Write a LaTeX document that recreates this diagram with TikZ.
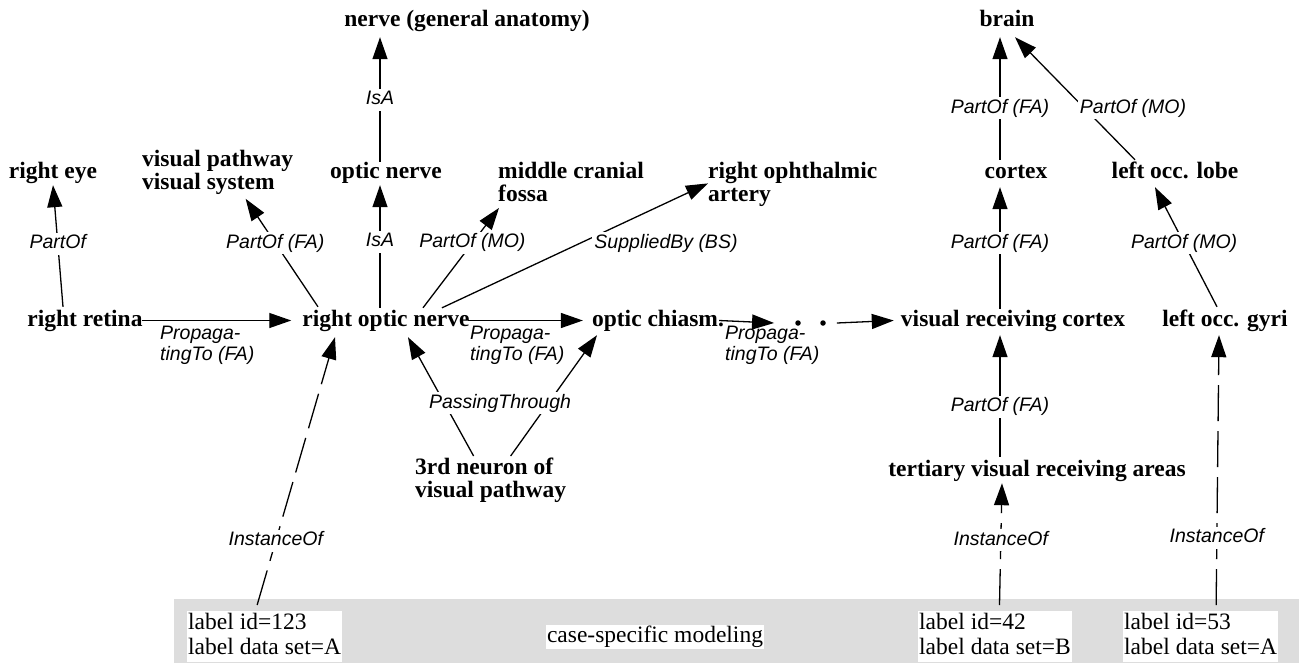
\documentclass[tikz,border=0pt]{standalone}
\usepackage{fontspec}
\setmainfont{Liberation Serif}
\newfontfamily\labfont{Liberation Sans}
\usetikzlibrary{arrows.meta,calc}
\definecolor{bandgray}{RGB}{221,221,221}
\tikzset{
  concept/.style={font=\fontsize{23.5}{23}\selectfont\bfseries, inner sep=0pt, text height=16pt, text depth=5pt, anchor=base},
  conceptml/.style={font=\fontsize{23.5}{23}\selectfont\bfseries, inner sep=0pt, align=left, anchor=north west},
  lab/.style={font=\labfont\itshape\fontsize{19.5}{21}\selectfont, fill=white, inner sep=2pt, text height=14pt, text depth=4pt},
  labml/.style={font=\labfont\itshape\fontsize{19.5}{21}\selectfont, inner sep=0pt, align=left, anchor=north west},
  rel/.style={draw, line width=1.3pt, -{Triangle[length=22pt,width=15pt]}},
  inst/.style={rel, dash pattern=on 36pt off 10pt},
  lbox/.style={fill=white, font=\fontsize{23.5}{25}\selectfont, align=left, inner xsep=1pt, inner ysep=0pt, minimum height=51pt, anchor=north west},
  dot/.style={circle, fill, inner sep=0pt, minimum size=5.5pt},
}
\begin{document}
\begin{tikzpicture}[x=1pt,y=-1pt]
\useasboundingbox (0,0) rectangle (1299,664);
% case-specific band
\fill[bandgray] (174,599) rectangle (1299,663);
\node[lbox] (b123) at (187,611) {label id=123\\label data set=A\vphantom{g}};
\node[lbox] (b42) at (918,611) {label id=42\\label data set=B\vphantom{g}};
\node[lbox] (b53) at (1123,611) {label id=53\\label data set=A\vphantom{g}};
\node[fill=white, font=\fontsize{23.5}{25}\selectfont, inner xsep=1pt, inner ysep=1.5pt, text height=16pt, text depth=5pt] (case) at (655,637) {case-specific modeling};

% concepts
\node[concept] (ngen) at (467,26) {nerve (general anatomy)};
\node[concept] (brain) at (1007,26) {brain};
\node[concept] (reye) at (53,178) {right eye};
\node[conceptml] (vpath) at (142,150) {visual pathway\\visual system};
\node[concept] (onerve) at (386,178) {optic nerve};
\node[conceptml] (mcf) at (498,162) {middle cranial\\fossa};
\node[conceptml] (roa) at (708,162) {right ophthalmic\\artery};
\node[concept] (cortex) at (1016,178) {cortex};
\node[concept] (lobe) at (1175,178) {left occ. lobe};
\node[concept] (retina) at (85,326) {right retina};
\node[concept] (ron) at (386,326) {right optic nerve};
\node[concept] (chiasm) at (658,326) {optic chiasm.};
\node[dot] (d1) at (798,323) {};
\node[dot] (d2) at (823,323) {};
\node[concept] (vrc) at (1013,326) {visual receiving cortex};
\node[concept] (gyri) at (1225,326) {left occ. gyri};
\node[conceptml] (n3) at (415,458) {3rd neuron of\\visual pathway};
\node[concept] (tert) at (1037,476) {tertiary visual receiving areas};

% relations
\draw[rel] ($(onerve.north)+(-6,0)$) -- node[lab]{IsA} ($(ngen.south)+(-87,6)$);
\draw[rel] ($(ron.north)+(-6,-2)$) -- node[lab,pos=0.54]{IsA} ($(onerve.south)+(-6,2)$);
\draw[rel] ($(retina.north)+(-22,-3)$) -- node[lab,pos=0.52]{PartOf} ($(reye.south)+(0,2)$);
\draw[rel] ($(ron.north)+(-68,-3)$) -- node[lab,pos=0.59]{PartOf (FA)} ($(vpath.south)+(28,4)$);
\draw[rel] ($(ron.north)+(37,-2)$) -- node[lab,pos=0.65]{PartOf (MO)} ($(mcf.south west)+(1,6)$);
\draw[rel] ($(ron.north)+(56,-2)$) -- ($(roa.west)+(0,-1)$);
\node[lab] (lsup) at (666,243) {SuppliedBy (BS)};

\draw[rel] ($(retina.east)+(-1,0)$) -- ($(ron.west)+(-11,0)$);
\node[labml] (lp1) at (160,326) {Propaga-\\tingTo (FA)};
\draw[rel] ($(ron.east)+(-2,0)$) -- ($(chiasm.west)+(-9,0)$);
\node[labml] (lp2) at (470,326) {Propaga-\\tingTo (FA)};
\draw[rel] ($(chiasm.east)+(-5,0)$) -- ($(d1.west)+(-21,0)$);
\node[labml] (lp3) at (725,326) {Propaga-\\tingTo (FA)};
\draw[rel] ($(d2.east)+(11,0)$) -- ($(vrc.west)+(-7,0)$);

\draw[rel] ($(n3.north)+(-17,-2)$) -- ($(ron.south)+(22,6)$);
\draw[rel] ($(n3.north)+(20,-2)$) -- ($(chiasm.south)+(-61,4)$);
\node[lab] (lpass) at (500,403) {PassingThrough};

\draw[rel] ($(cortex.north)+(-16,-2)$) -- node[lab,pos=0.42]{PartOf (FA)} ($(brain.south)+(-7,6)$);
\draw[rel] ($(lobe.north)+(-40,-2)$) -- ($(brain.south)+(8,6)$);
\node[lab] (lmo) at (1133,108) {PartOf (MO)};
\draw[rel] ($(vrc.north)+(-13,-1)$) -- node[lab,pos=0.54]{PartOf (FA)} ($(cortex.south)+(-16,4)$);
\draw[rel] ($(gyri.north)+(-8,-3)$) -- node[lab,pos=0.53]{PartOf (MO)} ($(lobe.south)+(-20,4)$);
\draw[rel] ($(tert.north)+(-37,-3)$) -- node[lab,pos=0.41]{PartOf (FA)} ($(vrc.south)+(-13,4)$);

% instance links
\draw[inst] ($(b123.north)+(-7.5,-6)$) -- node[lab,pos=0.24]{InstanceOf} ($(ron.south)+(-51,6)$);
\draw[inst] ($(b42.north)+(4.5,-6)$) -- node[lab,pos=0.53]{InstanceOf} ($(tert.south)+(-35,2)$);
\draw[inst] ($(b53.north)+(15.5,-6)$) -- node[lab,pos=0.25]{InstanceOf} ($(gyri.south)+(-6,4)$);
\end{tikzpicture}
\end{document}
